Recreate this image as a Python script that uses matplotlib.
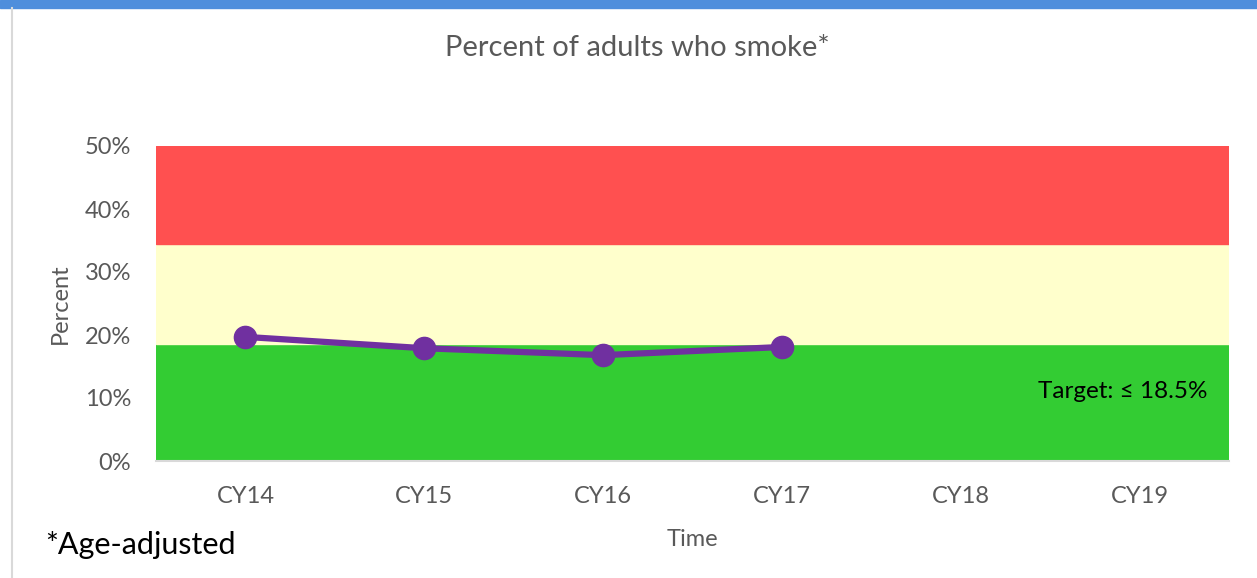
import matplotlib.pyplot as plt
from matplotlib.patches import Rectangle
from matplotlib.lines import Line2D

plt.rcParams['font.family'] = ['Lato', 'DejaVu Sans']

years = ["CY14", "CY15", "CY16", "CY17", "CY18", "CY19"]
smoke_pct = [19.7, 17.9, 16.8, 18.1]
target = 18.5
yellow_top = 34.5
y_max = 50
y_ticks = [0, 10, 20, 30, 40, 50]

fig = plt.figure(figsize=(12.57, 5.78), dpi=100)

# frame pieces around the chart
fig.patches.append(Rectangle((0, 570 / 578), 1, 8 / 578, transform=fig.transFigure,
                             color="#4F8EDC", zorder=0))
fig.lines.append(Line2D([11.5 / 1257, 11.5 / 1257], [0, 570 / 578], transform=fig.transFigure,
                        color="#D9D9D9", lw=1.5))

ax = fig.add_axes([156 / 1257, 117 / 578, 1073 / 1257, 315 / 578])
n = len(years)
ax.axhspan(0, target, color="#33CC33", zorder=0)
ax.axhspan(target, yellow_top, color="#FFFFCC", zorder=0)
ax.axhspan(yellow_top, y_max, color="#FF5050", zorder=0)

x = list(range(len(smoke_pct)))
ax.plot(x, smoke_pct, color="#7030A0", lw=4.5, marker="o", markersize=16, zorder=3)

ax.set_xlim(-0.5, n - 0.5)
ax.set_ylim(0, y_max)
ax.set_xticks(range(n))
ax.set_xticklabels(years)
ax.set_yticks(y_ticks)
ax.set_yticklabels([f"{v}%" for v in y_ticks])
ax.tick_params(length=0, labelsize=17, colors="#595959", pad=18)
ax.tick_params(axis="x", pad=18)
for s in ["top", "right", "left"]:
    ax.spines[s].set_visible(False)
ax.spines["bottom"].set_color("#D9D9D9")
ax.spines["bottom"].set_linewidth(1.5)

ax.set_xlabel("Time", fontsize=17, color="#595959", labelpad=16)
ax.set_ylabel("Percent", fontsize=17, color="#595959", labelpad=10)

ax.text(5.38, 11, "Target: \u2264 18.5%", ha="right", va="center", fontsize=17.5,
        color="black", family=["Lato", "DejaVu Sans"])

fig.text(637 / 1257, 1 - 48 / 578, "Percent of adults who smoke*", ha="center", va="center",
         fontsize=21, color="#595959")
fig.text(45 / 1257, 1 - 545 / 578, "*Age-adjusted", ha="left", va="center",
         fontsize=22, color="black")

fig.savefig("out.png", dpi=100)
